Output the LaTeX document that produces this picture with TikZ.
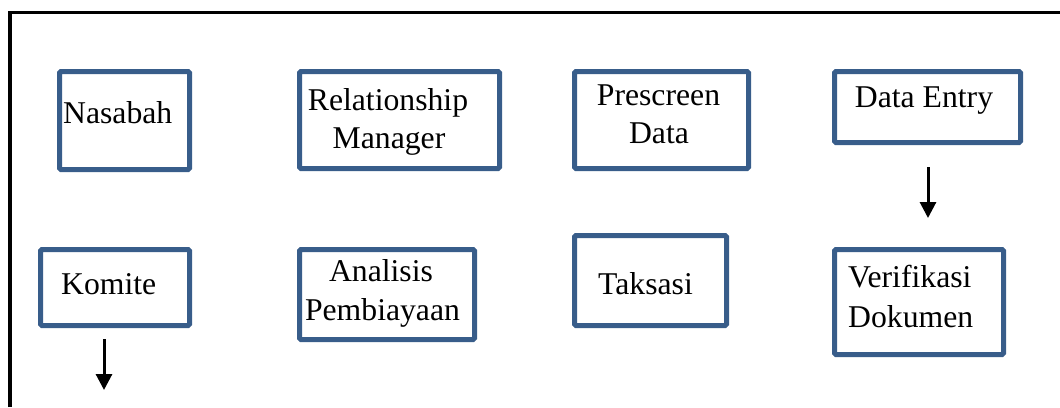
\documentclass[tikz,border=0pt]{standalone}
\usepackage{fontspec}
\setmainfont{Liberation Serif}
\usetikzlibrary{arrows.meta}
\definecolor{boxblue}{RGB}{56,93,138}
\tikzset{
  box/.style={draw=boxblue, line width=5pt, rounded corners=1.5pt, rectangle, inner sep=0pt, fill=white},
  lbl/.style={anchor=base, inner sep=0pt, font=\fontsize{31.7}{38}\selectfont},
  lblw/.style={anchor=base west, inner sep=0pt, font=\fontsize{31.7}{38}\selectfont},
  flow/.style={line width=3pt, -{Triangle[width=16pt,length=16pt]}},
  frame/.style={line width=3.4pt, line join=miter}
}
\begin{document}
\begin{tikzpicture}[x=1pt,y=-1pt]
\useasboundingbox (0,0) rectangle (1060,407);
\coordinate (fb) at (10,407);
\coordinate (fc) at (10,12.5);
\coordinate (fr) at (1060,12.5);
\draw[frame] (fb) -- (fc) -- (fr);
% boxes (outer edges minus half the stroke)
\node[box, minimum width=130pt, minimum height=98pt] (nas) at (124.5,120.5) {};
\node[box, minimum width=200pt, minimum height=97pt] (rm) at (399.5,120) {};
\node[box, minimum width=174pt, minimum height=97pt] (pre) at (661.5,120) {};
\node[box, minimum width=186pt, minimum height=71pt] (de) at (927.5,107) {};
\node[box, minimum width=149pt, minimum height=76pt] (kom) at (115,287.5) {};
\node[box, minimum width=175pt, minimum height=90pt] (ana) at (387,294.5) {};
\node[box, minimum width=152pt, minimum height=90pt] (tak) at (650.5,280.5) {};
\node[box, minimum width=169pt, minimum height=105pt] (ver) at (919,302) {};
% texts
\node[lblw] (tnas) at (63,123) {Nasabah};
\node[lbl] (trm1) at (388,110) {Relationship};
\node[lbl] (trm2) at (389,148) {Manager};
\node[lbl] (tpre1) at (658.5,105) {Prescreen};
\node[lbl] (tpre2) at (659,143) {Data};
\node[lbl] (tde) at (924,107) {Data Entry};
\node[lblw] (tkom) at (61,294) {Komite};
\node[lbl] (tana1) at (381,281) {Analisis};
\node[lbl] (tana2) at (382.5,320) {Pembiayaan};
\node[lblw] (ttak) at (598,294) {Taksasi};
\node[lblw] (tver1) at (848,287) {Verifikasi};
\node[lblw] (tver2) at (848,327) {Dokumen};
% arrows
\coordinate (a1s) at (928,167);
\coordinate (a1e) at (928,218);
\coordinate (a2s) at (104,339);
\coordinate (a2e) at (104,390);
\draw[flow] (a1s) -- (a1e);
\draw[flow] (a2s) -- (a2e);
\end{tikzpicture}
\end{document}
